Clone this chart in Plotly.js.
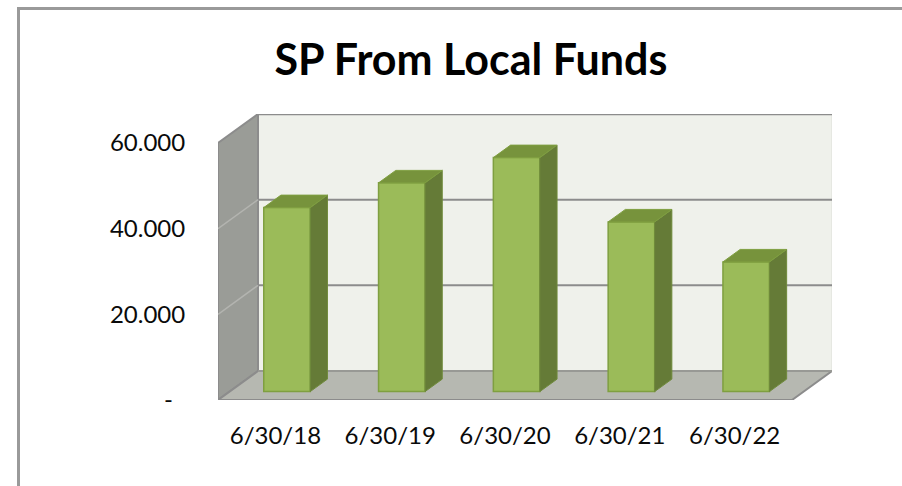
<!DOCTYPE html>
<html>
<head>
<meta charset="utf-8">
<script src="https://cdn.plot.ly/plotly-3.0.1.min.js"></script>
<style>
  html, body { margin: 0; padding: 0; background: #ffffff; }
  #wrap { position: relative; width: 902px; height: 486px; overflow: hidden; }
  #chart { position: absolute; left: 0; top: 0; width: 902px; height: 486px; }
  #frame { position: absolute; left: 17px; top: 7px; width: 1000px; height: 1000px;
           border-left: 3px solid #9a9a9a; border-top: 3px solid #9a9a9a; pointer-events: none; }
</style>
</head>
<body>
<div id="wrap">
  <div id="chart"></div>
  <div id="frame"></div>
</div>
<script>
// ---- data ----
const categories = ['6/30/18', '6/30/19', '6/30/20', '6/30/21', '6/30/22'];
const values = [42960, 48730, 54630, 39620, 30280];
const tickValues = [0, 20000, 40000, 60000];
const tickLabels = ['-\u00a0\u00a0', '20.000', '40.000', '60.000'];
const chartTitle = 'SP From Local Funds';

// ---- geometry (pixels) ----
const W = 902, H = 486;
const M = { l: 218, r: 70, t: 114, b: 86 };
const plotW = W - M.l - M.r, plotH = H - M.t - M.b;
const depthPx = { x: 40, y: 29 };
const wallMax = tickValues[tickValues.length - 1];
const frontPxPerUnitY = 257 / wallMax;       // front plane scale
const slotPx = (plotW - depthPx.x) / categories.length;

const xMin = -0.5;
const xMax = xMin + plotW / slotPx;
const yMax = plotH / frontPxPerUnitY;
const DX = depthPx.x / slotPx;
const DY = depthPx.y / frontPxPerUnitY;
const nCat = categories.length;
const xFrontR = nCat - 0.5;

// bar placement inside depth
const fFront = 0.29, fDepth = 0.43, barW = 0.405;
const offX = fFront * DX, baseY = fFront * DY;
const bdx = fDepth * DX, bdy = fDepth * DY;

const wallLine = '#8c8c8c';
const shapes = [];
// back wall
shapes.push({ type: 'path', layer: 'below', xref: 'x', yref: 'y',
  path: `M ${xMin + DX},${DY} L ${xFrontR + DX},${DY} L ${xFrontR + DX},${wallMax + DY} L ${xMin + DX},${wallMax + DY} Z`,
  fillcolor: '#eff1eb', line: { color: '#dcdfd8', width: 1 } });
// back wall top edge
shapes.push({ type: 'line', layer: 'below', xref: 'x', yref: 'y',
  x0: xMin + DX, x1: xFrontR + DX, y0: wallMax + DY, y1: wallMax + DY,
  line: { color: wallLine, width: 2.5 } });
// side wall
shapes.push({ type: 'path', layer: 'below', xref: 'x', yref: 'y',
  path: `M ${xMin},0 L ${xMin},${wallMax} L ${xMin + DX},${wallMax + DY} L ${xMin + DX},${DY} Z`,
  fillcolor: '#9a9c97', line: { color: wallLine, width: 2 } });
// floor
shapes.push({ type: 'path', layer: 'below', xref: 'x', yref: 'y',
  path: `M ${xMin},0 L ${xFrontR},0 L ${xFrontR + DX},${DY} L ${xMin + DX},${DY} Z`,
  fillcolor: '#b6b8b1', line: { color: wallLine, width: 2 } });
// gridlines
tickValues.slice(1, -1).forEach(v => {
  shapes.push({ type: 'line', layer: 'below', xref: 'x', yref: 'y',
    x0: xMin + DX, x1: xFrontR + DX, y0: v + DY, y1: v + DY,
    line: { color: wallLine, width: 2 } });
  shapes.push({ type: 'line', layer: 'below', xref: 'x', yref: 'y',
    x0: xMin, x1: xMin + DX, y0: v, y1: v + DY,
    line: { color: '#b3b4b0', width: 1.5 } });
});
// floor back edge
shapes.push({ type: 'line', layer: 'below', xref: 'x', yref: 'y',
  x0: xMin + DX, x1: xFrontR + DX, y0: DY, y1: DY, line: { color: '#9c9e98', width: 1.5 } });

const xs = categories.map((c, i) => i + offX);
const traces = [];
traces.push({
  type: 'bar', x: xs, y: values, base: categories.map(() => baseY), width: barW,
  marker: { color: '#9bbb59', line: { color: '#7f9f40', width: 1.5 } },
  hoverinfo: 'skip', showlegend: false
});
values.forEach((v, i) => {
  const xl = xs[i] - barW / 2, xr = xs[i] + barW / 2;
  const top = baseY + v;
  traces.push({ type: 'scatter', mode: 'lines', fill: 'toself', fillcolor: '#657b37',
    x: [xr, xr + bdx, xr + bdx, xr, xr], y: [baseY, baseY + bdy, top + bdy, top, baseY],
    line: { color: '#6f8a3b', width: 1 }, hoverinfo: 'skip', showlegend: false });
  traces.push({ type: 'scatter', mode: 'lines', fill: 'toself', fillcolor: '#77933c',
    x: [xl, xr, xr + bdx, xl + bdx, xl], y: [top, top, top + bdy, top + bdy, top],
    line: { color: '#7f9f40', width: 1 }, hoverinfo: 'skip', showlegend: false });
});

const font = "Lato, 'Open Sans', sans-serif";
const layout = {
  width: W, height: H,
  margin: M,
  paper_bgcolor: '#ffffff', plot_bgcolor: 'rgba(0,0,0,0)',
  title: { text: chartTitle, font: { family: font, size: 43, color: '#000000', weight: 'bold' },
           xref: 'container', yref: 'container', x: 0.522, y: 1 - 60 / H, xanchor: 'center', yanchor: 'middle' },
  xaxis: { range: [xMin, xMax], tickvals: categories.map((c, i) => i), ticktext: categories,
           showgrid: false, zeroline: false, showline: false, fixedrange: true,
           ticks: 'outside', ticklen: 14, tickcolor: 'rgba(0,0,0,0)',
           tickfont: { family: font, size: 24, color: '#0a0a0a' } },
  yaxis: { range: [0, yMax], tickvals: tickValues, ticktext: tickLabels,
           showgrid: false, zeroline: false, showline: false, fixedrange: true,
           ticks: 'outside', ticklen: 27, tickcolor: 'rgba(0,0,0,0)',
           tickfont: { family: font, size: 24, color: '#0a0a0a' } },
  shapes: shapes,
  showlegend: false
};
Plotly.newPlot('chart', traces, layout, { staticPlot: true, displayModeBar: false });
</script>
</body>
</html>
